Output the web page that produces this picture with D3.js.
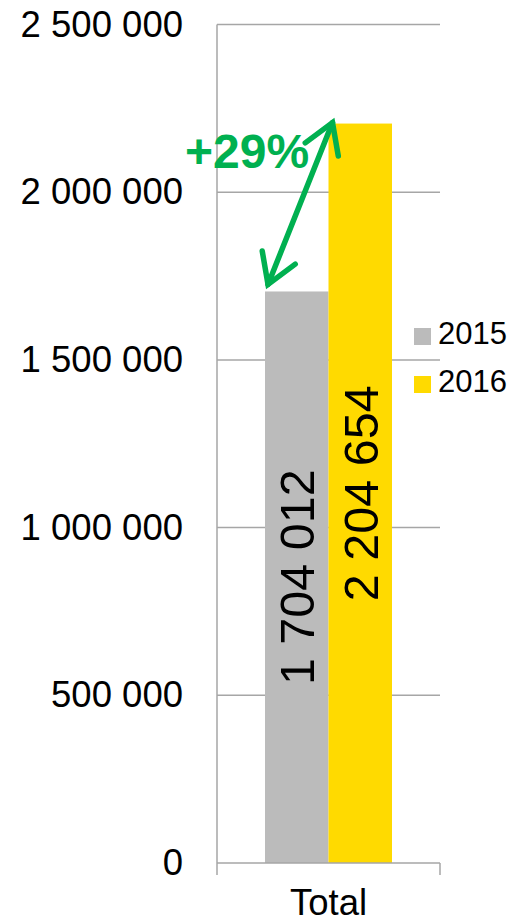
<!DOCTYPE html>
<html>
<head>
<meta charset="utf-8">
<script src="https://cdn.jsdelivr.net/npm/d3@7"></script>
<style>
  body { margin: 0; background: #fff; }
  text { font-family: "Liberation Sans", Arial, sans-serif; }
</style>
</head>
<body>
<svg width="512" height="923"></svg>
<script>
// data
var categories = ["Total"];
var years = ["2015", "2016"];
var values = [1704012, 2204654];
var yTicks = [0, 500000, 1000000, 1500000, 2000000, 2500000];
var colors = ["#BBBBBB", "#FFDA00"];

var svg = d3.select("svg");

// scales
var y = d3.scaleLinear().domain([0, 2500000]).range([863, 24.5]);
var x0 = d3.scaleBand().domain(categories).range([217, 440]);
var x1 = d3.scaleBand().domain(years).range([48, 175]);

// space as thousands separator
var fmt = function (d) { return d3.format(",")(d).replace(/,/g, " "); };

// gridlines
svg.append("g")
    .selectAll("line")
    .data(yTicks.slice(1))
    .enter()
    .append("line")
    .attr("x1", 217)
    .attr("x2", 440)
    .attr("y1", function (d) { return y(d); })
    .attr("y2", function (d) { return y(d); })
    .style("stroke", "#A6A6A6")
    .style("stroke-width", 1.5);

// y axis
var yAxis = svg.append("g")
    .attr("transform", "translate(217,0)")
    .call(d3.axisLeft(y).tickValues(yTicks).tickSize(0).tickPadding(34).tickFormat(fmt));
yAxis.select(".domain").remove();
yAxis.selectAll("text")
    .attr("font-size", "36.5px")
    .attr("fill", "#000")
    .style("font-family", "'Liberation Sans', Arial, sans-serif");

// bars
var bars = svg.append("g");
years.forEach(function (yr, i) {
    var bx = x0("Total") + x1(yr);
    bars.append("rect")
        .attr("x", bx)
        .attr("y", y(values[i]))
        .attr("width", x1.bandwidth())
        .attr("height", y(0) - y(values[i]))
        .attr("fill", colors[i]);
    bars.append("text")
        .attr("transform", "translate(" + (bx + x1.bandwidth() / 2) + "," + ((y(values[i]) + y(0)) / 2) + ") rotate(-90)")
        .attr("text-anchor", "middle")
        .attr("dy", "0.36em")
        .attr("font-size", "48.5px")
        .attr("fill", "#000")
        .text(fmt(values[i]));
});

// axis lines
svg.append("line")
    .attr("x1", 217).attr("x2", 217)
    .attr("y1", y(2500000)).attr("y2", 875)
    .style("stroke", "#A6A6A6").style("stroke-width", 1.5);
svg.append("line")
    .attr("x1", 217).attr("x2", 440)
    .attr("y1", y(0)).attr("y2", y(0))
    .style("stroke", "#A6A6A6").style("stroke-width", 1.5);
svg.append("line")
    .attr("x1", 440).attr("x2", 440)
    .attr("y1", y(0)).attr("y2", 875)
    .style("stroke", "#A6A6A6").style("stroke-width", 1.5);

// category label
svg.append("text")
    .attr("x", x0("Total") + x0.bandwidth() / 2)
    .attr("y", 915)
    .attr("text-anchor", "middle")
    .attr("font-size", "36.5px")
    .attr("fill", "#000")
    .text(categories[0]);

// legend
var legend = svg.append("g");
years.forEach(function (yr, i) {
    legend.append("rect")
        .attr("x", 414)
        .attr("y", 328 + i * 48)
        .attr("width", 17)
        .attr("height", 17)
        .attr("fill", colors[i]);
    legend.append("text")
        .attr("x", 438)
        .attr("y", 344 + i * 48)
        .attr("font-size", "31px")
        .attr("fill", "#000")
        .text(yr);
});

// growth arrow
var green = "#00B050";
var p1 = [x0("Total") + x1("2015") + 3, y(values[0]) - 7];
var p2 = [x0("Total") + x1("2016") + 4, y(values[1]) - 1];
var arrow = svg.append("g")
    .style("stroke", green)
    .style("stroke-width", 5.5)
    .style("stroke-linecap", "round")
    .style("fill", "none");
arrow.append("line")
    .attr("x1", p1[0]).attr("y1", p1[1])
    .attr("x2", p2[0]).attr("y2", p2[1]);

function head(tip, from) {
    var ang = Math.atan2(from[1] - tip[1], from[0] - tip[0]);
    var len = 34, spread = 0.55;
    var a = [tip[0] + len * Math.cos(ang - spread), tip[1] + len * Math.sin(ang - spread)];
    var b = [tip[0] + len * Math.cos(ang + spread), tip[1] + len * Math.sin(ang + spread)];
    arrow.append("path")
        .attr("d", "M" + a + "L" + tip + "L" + b)
        .style("stroke-linejoin", "miter");
}
head(p1, p2);
head(p2, p1);

var pct = Math.round((values[1] / values[0] - 1) * 100);
svg.append("text")
    .attr("x", 185)
    .attr("y", 168)
    .attr("font-size", "48px")
    .attr("font-weight", "bold")
    .attr("fill", green)
    .text("+" + pct + "%");
</script>
</body>
</html>
